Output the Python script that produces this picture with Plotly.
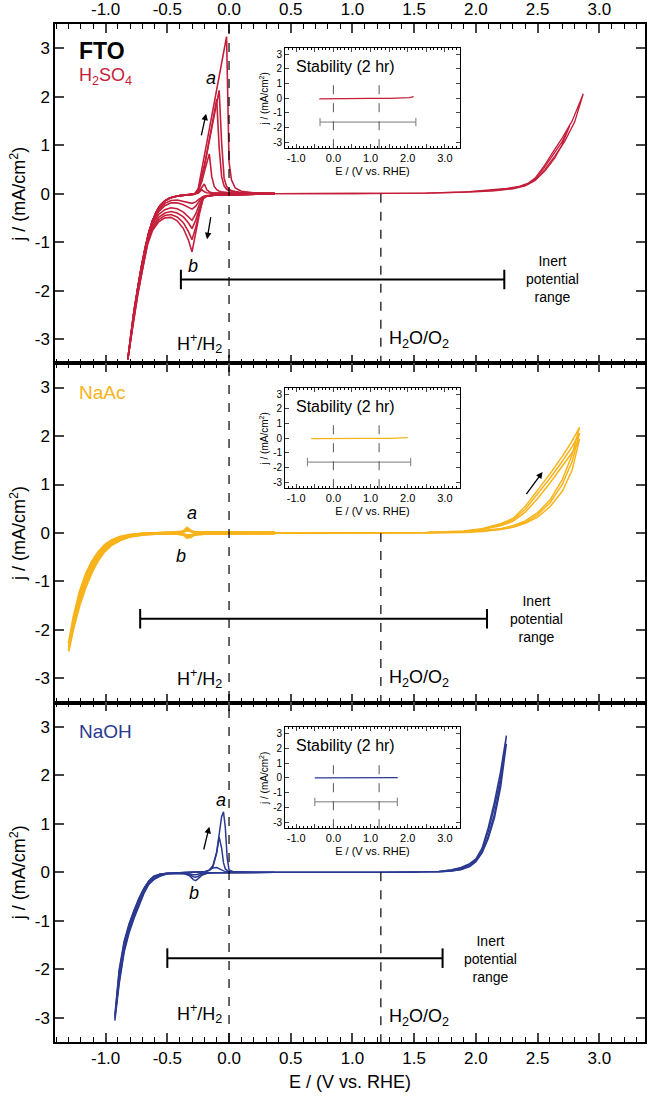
import plotly.graph_objects as go

FONT = "Liberation Sans, Arial, sans-serif"
RED = "#C41E3A"
ORANGE = "#F8B31A"
BLUE = "#2B3990"
GREY = "#7a7a7a"

# ---------------- H2SO4 (top panel) ----------------
h2so4_e_cath = [0.37, 0.20, 0.05, -0.05, -0.12, -0.18, -0.21, -0.24, -0.27, -0.30, -0.33,
                -0.37, -0.42, -0.47, -0.52, -0.57, -0.62, -0.66, -0.70, -0.74, -0.78, -0.82]
h2so4_j_cath_1 = [0.0, -0.01, -0.01, -0.02, -0.03, -0.04, -0.06, -0.11, -0.17, -0.20, -0.18,
                  -0.15, -0.13, -0.14, -0.20, -0.33, -0.55, -0.90, -1.40, -1.96, -2.62, -3.42]
h2so4_j_cath_2 = [0.0, -0.01, -0.01, -0.02, -0.03, -0.05, -0.07, -0.15, -0.26, -0.32, -0.28,
                  -0.23, -0.19, -0.19, -0.25, -0.37, -0.59, -0.93, -1.42, -1.98, -2.64, -3.42]
h2so4_j_cath_3 = [0.0, -0.01, -0.01, -0.02, -0.03, -0.05, -0.08, -0.22, -0.42, -0.55, -0.47,
                  -0.38, -0.31, -0.29, -0.33, -0.43, -0.63, -0.96, -1.45, -2.01, -2.67, -3.42]
h2so4_j_cath_4 = [0.0, -0.01, -0.01, -0.02, -0.03, -0.05, -0.09, -0.30, -0.55, -0.72, -0.60,
                  -0.48, -0.40, -0.37, -0.40, -0.49, -0.68, -0.99, -1.48, -2.04, -2.70, -3.42]
h2so4_j_cath_5 = [0.0, -0.01, -0.01, -0.02, -0.03, -0.05, -0.10, -0.36, -0.70, -0.95, -0.78,
                  -0.60, -0.48, -0.43, -0.45, -0.54, -0.72, -1.02, -1.51, -2.07, -2.72, -3.42]
h2so4_j_cath_6 = [0.0, -0.01, -0.01, -0.02, -0.03, -0.05, -0.10, -0.42, -0.85, -1.20, -0.95,
                  -0.72, -0.56, -0.49, -0.50, -0.58, -0.76, -1.05, -1.55, -2.10, -2.75, -3.42]

h2so4_e_steep = [-0.82, -0.80, -0.77, -0.74, -0.71, -0.68, -0.65, -0.62, -0.59, -0.56, -0.52,
                 -0.48, -0.44, -0.40, -0.36, -0.32, -0.28]
h2so4_j_steep = [-3.42, -3.00, -2.42, -1.95, -1.50, -1.12, -0.80, -0.56, -0.38, -0.25, -0.15,
                 -0.09, -0.06, -0.04, -0.03, -0.02, -0.01]

h2so4_e_peak = [-0.25, -0.22, -0.20, -0.18, -0.16, -0.14, -0.12, -0.10, -0.08, -0.06, -0.04,
                -0.02, 0.00, 0.02, 0.05, 0.10, 0.20, 0.37]
h2so4_j_peak_1 = [0.01, 0.08, 0.04, 0.02, 0.01, 0.01, 0.01, 0.01, 0.01, 0.01, 0.01,
                  0.01, 0.01, 0.0, 0.0, 0.0, 0.0, 0.0]
h2so4_j_peak_2 = [0.03, 0.12, 0.20, 0.08, 0.04, 0.02, 0.02, 0.01, 0.01, 0.01, 0.01,
                  0.01, 0.01, 0.01, 0.0, 0.0, 0.0, 0.0]
h2so4_j_peak_3 = [0.05, 0.25, 0.45, 0.65, 0.82, 0.35, 0.15, 0.08, 0.05, 0.04, 0.03,
                  0.02, 0.02, 0.01, 0.01, 0.0, 0.0, 0.0]
h2so4_j_peak_4 = [0.06, 0.33, 0.56, 0.83, 1.10, 1.37, 1.65, 1.95, 0.95, 0.35, 0.16,
                  0.09, 0.06, 0.05, 0.03, 0.02, 0.01, 0.0]
h2so4_j_peak_5 = [0.07, 0.35, 0.58, 0.83, 1.08, 1.33, 1.60, 1.87, 2.13, 1.05, 0.32,
                  0.15, 0.09, 0.06, 0.04, 0.02, 0.01, 0.0]
h2so4_j_peak_6 = [0.10, 0.50, 0.78, 1.05, 1.33, 1.60, 1.88, 2.15, 2.42, 2.70, 2.97,
                  3.24, 0.65, 0.28, 0.12, 0.05, 0.02, 0.01]

h2so4_e_oer_fwd_1 = [0.37, 0.8, 1.2, 1.6, 1.9, 2.1, 2.25, 2.35, 2.42, 2.48, 2.55, 2.62, 2.70, 2.78, 2.87]
h2so4_j_oer_fwd_1 = [0.0, 0.0, 0.0, 0.01, 0.03, 0.07, 0.11, 0.15, 0.21, 0.32, 0.56, 0.84, 1.15, 1.50, 2.06]
h2so4_e_oer_back_1 = [2.87, 2.80, 2.72, 2.64, 2.56, 2.48, 2.40, 2.30, 2.15, 1.95, 1.6, 1.0, 0.37]
h2so4_j_oer_back_1 = [2.06, 1.48, 1.08, 0.78, 0.50, 0.28, 0.17, 0.11, 0.07, 0.04, 0.01, 0.0, 0.0]
h2so4_e_oer_fwd_2 = [0.37, 0.8, 1.2, 1.6, 1.9, 2.1, 2.25, 2.35, 2.42, 2.48, 2.55, 2.62, 2.70, 2.76]
h2so4_j_oer_fwd_2 = [0.0, 0.0, 0.0, 0.01, 0.03, 0.06, 0.10, 0.14, 0.20, 0.30, 0.52, 0.78, 1.08, 1.40]
h2so4_e_oer_back_2 = [2.76, 2.70, 2.64, 2.56, 2.48, 2.40, 2.30, 2.15, 1.95, 1.6, 1.0, 0.37]
h2so4_j_oer_back_2 = [1.40, 1.02, 0.74, 0.47, 0.27, 0.16, 0.10, 0.06, 0.03, 0.01, 0.0, 0.0]

# ---------------- NaAc (middle panel) ----------------
naac_e_cath = [0.37, 0.20, 0.00, -0.20, -0.28, -0.31, -0.34, -0.37, -0.42, -0.50, -0.60,
               -0.70, -0.80, -0.88, -0.95, -1.01, -1.06, -1.11, -1.16, -1.21, -1.26, -1.30]
naac_j_cath_1 = [-0.01, -0.01, -0.01, -0.02, -0.04, -0.09, -0.10, -0.04, -0.02, -0.02, -0.02,
                 -0.04, -0.08, -0.15, -0.25, -0.39, -0.57, -0.81, -1.11, -1.49, -1.97, -2.44]
naac_j_cath_2 = [-0.01, -0.01, -0.01, -0.02, -0.03, -0.06, -0.07, -0.03, -0.02, -0.01, -0.02,
                 -0.03, -0.07, -0.13, -0.22, -0.35, -0.52, -0.75, -1.04, -1.41, -1.89, -2.36]
naac_j_cath_3 = [-0.01, -0.01, -0.01, -0.01, -0.02, -0.04, -0.04, -0.02, -0.01, -0.01, -0.01,
                 -0.03, -0.06, -0.11, -0.20, -0.32, -0.48, -0.70, -0.98, -1.34, -1.81, -2.28]
naac_e_anod = [-1.30, -1.26, -1.21, -1.16, -1.11, -1.06, -1.01, -0.95, -0.88, -0.80, -0.70,
               -0.60, -0.50, -0.42, -0.37, -0.34, -0.31, -0.28, -0.20, 0.00, 0.20, 0.37]
naac_j_anod_1 = [-2.44, -1.85, -1.30, -0.92, -0.64, -0.44, -0.29, -0.17, -0.09, -0.04, -0.01,
                 0.00, 0.01, 0.01, 0.04, 0.11, 0.05, 0.02, 0.02, 0.02, 0.02, 0.02]
naac_j_anod_2 = [-2.36, -1.78, -1.25, -0.88, -0.61, -0.41, -0.27, -0.16, -0.08, -0.04, -0.01,
                 0.00, 0.01, 0.01, 0.03, 0.08, 0.04, 0.02, 0.02, 0.02, 0.02, 0.02]
naac_j_anod_3 = [-2.28, -1.72, -1.20, -0.84, -0.58, -0.39, -0.25, -0.14, -0.07, -0.03, -0.01,
                 0.00, 0.00, 0.01, 0.02, 0.05, 0.03, 0.01, 0.01, 0.01, 0.01, 0.01]

naac_e_oer_fwd = [0.37, 0.8, 1.2, 1.6, 1.9, 2.05, 2.2, 2.3, 2.4, 2.5, 2.6, 2.7, 2.78, 2.84]
naac_j_oer_fwd_1 = [0.0, 0.0, 0.0, 0.01, 0.04, 0.09, 0.19, 0.30, 0.55, 0.88, 1.22, 1.58, 1.90, 2.18]
naac_j_oer_fwd_2 = [0.0, 0.0, 0.0, 0.01, 0.03, 0.08, 0.17, 0.27, 0.49, 0.80, 1.13, 1.48, 1.78, 2.06]
naac_j_oer_fwd_3 = [0.0, 0.0, 0.0, 0.01, 0.03, 0.07, 0.15, 0.24, 0.43, 0.71, 1.03, 1.37, 1.66, 1.94]
naac_e_oer_back = [2.84, 2.78, 2.7, 2.6, 2.5, 2.4, 2.3, 2.2, 2.05, 1.9, 1.6, 1.2, 0.8, 0.37]
naac_j_oer_back_1 = [2.18, 1.62, 1.10, 0.68, 0.42, 0.25, 0.15, 0.09, 0.05, 0.02, 0.01, 0.0, 0.0, 0.0]
naac_j_oer_back_2 = [2.06, 1.48, 1.00, 0.62, 0.38, 0.22, 0.13, 0.08, 0.04, 0.02, 0.01, 0.0, 0.0, 0.0]
naac_j_oer_back_3 = [1.94, 1.30, 0.86, 0.54, 0.33, 0.20, 0.12, 0.07, 0.03, 0.01, 0.0, 0.0, 0.0, 0.0]

# ---------------- NaOH (bottom panel) ----------------
naoh_e_cath = [0.37, 0.20, 0.02, -0.06, -0.12, -0.18, -0.22, -0.25, -0.27, -0.29, -0.32, -0.36,
               -0.42, -0.50, -0.56, -0.61, -0.65, -0.69, -0.73, -0.77, -0.81, -0.85, -0.89, -0.925]
naoh_j_cath_1 = [0.0, 0.0, 0.0, 0.0, -0.01, -0.02, -0.06, -0.13, -0.17, -0.15, -0.07, -0.03,
                 -0.02, -0.03, -0.08, -0.15, -0.25, -0.44, -0.68, -0.95, -1.25, -1.65, -2.30, -3.06]
naoh_j_cath_2 = [0.0, 0.0, 0.0, 0.0, -0.01, -0.02, -0.04, -0.08, -0.10, -0.09, -0.05, -0.02,
                 -0.02, -0.03, -0.07, -0.14, -0.23, -0.40, -0.63, -0.90, -1.20, -1.60, -2.25, -3.00]
naoh_j_cath_3 = [0.0, 0.0, 0.0, 0.0, -0.01, -0.01, -0.02, -0.04, -0.05, -0.05, -0.03, -0.02,
                 -0.02, -0.03, -0.06, -0.13, -0.21, -0.37, -0.60, -0.86, -1.16, -1.55, -2.20, -2.95]
naoh_e_anod = [-0.925, -0.89, -0.85, -0.81, -0.77, -0.73, -0.69, -0.65, -0.61, -0.56, -0.50,
               -0.40, -0.30, -0.20, -0.16, -0.13, -0.10, -0.08, -0.06, -0.045, -0.03, -0.015,
               0.00, 0.03, 0.10, 0.20, 0.37]
naoh_j_anod_1 = [-3.06, -2.10, -1.50, -1.12, -0.82, -0.56, -0.35, -0.19, -0.09, -0.04, -0.02,
                 -0.01, 0.0, 0.01, 0.05, 0.14, 0.42, 0.77, 1.15, 1.25, 0.92, 0.30,
                 0.05, 0.02, 0.01, 0.0, 0.0]
naoh_j_anod_2 = [-3.00, -2.05, -1.46, -1.09, -0.80, -0.55, -0.34, -0.18, -0.09, -0.04, -0.02,
                 -0.01, 0.0, 0.01, 0.04, 0.12, 0.40, 0.73, 0.50, 0.20, 0.07, 0.03,
                 0.01, 0.01, 0.0, 0.0, 0.0]
naoh_j_anod_3 = [-2.95, -2.00, -1.42, -1.06, -0.78, -0.53, -0.33, -0.18, -0.08, -0.04, -0.02,
                 -0.01, 0.0, 0.01, 0.04, 0.09, 0.10, 0.07, 0.04, 0.03, 0.02, 0.01,
                 0.01, 0.0, 0.0, 0.0, 0.0]

naoh_e_oer_fwd = [0.37, 0.8, 1.2, 1.5, 1.7, 1.8, 1.88, 1.95, 2.00, 2.05, 2.10, 2.15, 2.20, 2.247]
naoh_j_oer_fwd_1 = [0.0, 0.0, 0.0, 0.0, 0.02, 0.05, 0.10, 0.18, 0.28, 0.50, 0.92, 1.45, 2.08, 2.82]
naoh_j_oer_fwd_2 = [0.0, 0.0, 0.0, 0.0, 0.02, 0.05, 0.09, 0.16, 0.25, 0.45, 0.84, 1.35, 1.95, 2.65]
naoh_e_oer_back = [2.247, 2.20, 2.15, 2.10, 2.05, 2.00, 1.95, 1.88, 1.80, 1.70, 1.50, 1.20, 0.80, 0.37]
naoh_j_oer_back_1 = [2.82, 1.85, 1.20, 0.74, 0.42, 0.24, 0.13, 0.06, 0.03, 0.01, 0.0, 0.0, 0.0, 0.0]
naoh_j_oer_back_2 = [2.65, 1.75, 1.12, 0.70, 0.40, 0.22, 0.12, 0.06, 0.03, 0.01, 0.0, 0.0, 0.0, 0.0]

# ---------------- inert potential ranges ----------------
inert_h2so4_e = [-0.39, 2.23]
inert_naac_e = [-0.72, 2.09]
inert_naoh_e = [-0.50, 1.73]
inert_j = [-1.77, -1.77]

# ---------------- stability insets ----------------
stab_h2so4_e = [-0.38, 0.0, 0.5, 1.0, 1.5, 1.9, 2.05, 2.16]
stab_h2so4_j = [-0.04, -0.02, -0.01, 0.0, 0.0, 0.02, 0.05, 0.12]
stab_naac_e = [-0.60, 0.0, 0.5, 1.0, 1.5, 1.9, 2.0]
stab_naac_j = [-0.02, 0.0, 0.0, 0.0, 0.0, 0.02, 0.05]
stab_naoh_e = [-0.50, 0.0, 0.5, 1.0, 1.5, 1.73]
stab_naoh_j = [0.0, 0.0, 0.0, 0.0, 0.0, 0.01]
stab_range_h2so4_e = [-0.36, 2.22]
stab_range_naac_e = [-0.70, 2.08]
stab_range_naoh_e = [-0.50, 1.72]
stab_range_j = [-1.62, -1.62]

fig = go.Figure()


def loop(e1, j1, e2, j2, color, xa, ya, width=1.6):
    fig.add_trace(go.Scatter(x=e1 + e2, y=j1 + j2, mode="lines",
                             line=dict(color=color, width=width),
                             xaxis=xa, yaxis=ya, hoverinfo="skip"))


# top panel curves
for jc, jp in [(h2so4_j_cath_1, h2so4_j_peak_1), (h2so4_j_cath_2, h2so4_j_peak_2),
               (h2so4_j_cath_3, h2so4_j_peak_3), (h2so4_j_cath_4, h2so4_j_peak_4),
               (h2so4_j_cath_5, h2so4_j_peak_5), (h2so4_j_cath_6, h2so4_j_peak_6)]:
    loop(h2so4_e_cath, jc, h2so4_e_steep + h2so4_e_peak, h2so4_j_steep + jp, RED, "x", "y")
loop(h2so4_e_oer_fwd_1, h2so4_j_oer_fwd_1, h2so4_e_oer_back_1, h2so4_j_oer_back_1, RED, "x", "y", 1.3)
loop(h2so4_e_oer_fwd_2, h2so4_j_oer_fwd_2, h2so4_e_oer_back_2, h2so4_j_oer_back_2, RED, "x", "y", 1.3)

# middle panel curves
for jc, ja in [(naac_j_cath_1, naac_j_anod_1), (naac_j_cath_2, naac_j_anod_2),
               (naac_j_cath_3, naac_j_anod_3)]:
    loop(naac_e_cath, jc, naac_e_anod, ja, ORANGE, "x2", "y2", 2.0)
for jf, jb in [(naac_j_oer_fwd_1, naac_j_oer_back_1), (naac_j_oer_fwd_2, naac_j_oer_back_2),
               (naac_j_oer_fwd_3, naac_j_oer_back_3)]:
    loop(naac_e_oer_fwd, jf, naac_e_oer_back, jb, ORANGE, "x2", "y2", 1.5)

# bottom panel curves
for jc, ja in [(naoh_j_cath_1, naoh_j_anod_1), (naoh_j_cath_2, naoh_j_anod_2),
               (naoh_j_cath_3, naoh_j_anod_3)]:
    loop(naoh_e_cath, jc, naoh_e_anod, ja, BLUE, "x3", "y3", 1.5)
for jf, jb in [(naoh_j_oer_fwd_1, naoh_j_oer_back_1), (naoh_j_oer_fwd_2, naoh_j_oer_back_2)]:
    loop(naoh_e_oer_fwd, jf, naoh_e_oer_back, jb, BLUE, "x3", "y3", 1.5)

# inert potential range bars
for e, xa, ya in [(inert_h2so4_e, "x", "y"), (inert_naac_e, "x2", "y2"), (inert_naoh_e, "x3", "y3")]:
    fig.add_trace(go.Scatter(x=e, y=inert_j, mode="lines+markers", xaxis=xa, yaxis=ya,
                             line=dict(color="black", width=2),
                             marker=dict(symbol="line-ns-open", size=14,
                                         line=dict(color="black", width=2)),
                             hoverinfo="skip"))

# insets
for e, j, r, col, xa, ya in [(stab_h2so4_e, stab_h2so4_j, stab_range_h2so4_e, RED, "x4", "y4"),
                             (stab_naac_e, stab_naac_j, stab_range_naac_e, ORANGE, "x5", "y5"),
                             (stab_naoh_e, stab_naoh_j, stab_range_naoh_e, BLUE, "x6", "y6")]:
    fig.add_trace(go.Scatter(x=e, y=j, mode="lines", xaxis=xa, yaxis=ya,
                             line=dict(color=col, width=1.3), hoverinfo="skip"))
    fig.add_trace(go.Scatter(x=r, y=stab_range_j, mode="lines+markers", xaxis=xa, yaxis=ya,
                             line=dict(color=GREY, width=1),
                             marker=dict(symbol="line-ns-open", size=6,
                                         line=dict(color=GREY, width=1)),
                             hoverinfo="skip"))

# axes
x_ticks = [-1.0, -0.5, 0.0, 0.5, 1.0, 1.5, 2.0, 2.5, 3.0]
x_text = ["-1.0", "-0.5", "0.0", "0.5", "1.0", "1.5", "2.0", "2.5", "3.0"]
y_ticks = [-3, -2, -1, 0, 1, 2, 3]
y_text = ["-3", "-2", "-1", "0", "1", "2", "3"]

main_x = dict(range=[-1.41, 3.37], tickvals=x_ticks, ticktext=x_text, ticks="inside",
              ticklen=9, tickwidth=1.5, showline=True, linewidth=1.5, linecolor="black",
              mirror="ticks", showgrid=False, zeroline=False, automargin=False,
              minor=dict(tick0=0, dtick=0.1, ticks="inside", ticklen=5, tickwidth=1.2,
                         tickcolor="black", showgrid=False),
              tickfont=dict(size=17, color="black"))
main_y = dict(range=[-3.5, 3.5], tickvals=y_ticks, ticktext=y_text, ticks="inside",
              ticklen=9, tickwidth=1.5, showline=True, linewidth=1.5, linecolor="black",
              mirror="ticks", showgrid=False, zeroline=False, automargin=False,
              tickfont=dict(size=17, color="black"),
              title=dict(text="j / (mA/cm<sup>2</sup>)", font=dict(size=18, color="black"),
                         standoff=4))

ins_xticks = [-1.0, -0.5, 0.0, 0.5, 1.0, 1.5, 2.0, 2.5, 3.0]
ins_xtext = ["-1.0", "", "0.0", "", "1.0", "", "2.0", "", "3.0"]
ins_x = dict(range=[-1.3, 3.4], tickvals=ins_xticks, ticktext=ins_xtext, ticks="inside",
             ticklen=4, tickwidth=1, showline=True, linewidth=1, linecolor="black",
             mirror="ticks", showgrid=False, zeroline=False, automargin=False,
             minor=dict(tick0=0, dtick=0.1, ticks="inside", ticklen=2, tickwidth=0.8,
                        tickcolor="black", showgrid=False),
             tickfont=dict(size=11, color="black"),
             title=dict(text="E / (V vs. RHE)", font=dict(size=11, color="black"), standoff=3))
ins_y = dict(range=[-3.4, 3.4], tickvals=y_ticks, ticktext=y_text, ticks="inside",
             ticklen=4, tickwidth=1, showline=True, linewidth=1, linecolor="black",
             mirror="ticks", showgrid=False, zeroline=False, automargin=False,
             tickfont=dict(size=10, color="black"),
             title=dict(text="j / (mA/cm<sup>2</sup>)", font=dict(size=10, color="black"),
                        standoff=2))

d_top, d_mid, d_bot = [0.6667, 1.0], [0.3333, 0.6667], [0.0, 0.3333]
ins_dom = [0.39, 0.686]

fig.update_layout(
    width=655, height=1098,
    margin=dict(l=55, r=10, t=24, b=56),
    paper_bgcolor="white", plot_bgcolor="white",
    showlegend=False,
    font=dict(family=FONT, color="black"),
    xaxis=dict(main_x, anchor="y", side="top", domain=[0, 1]),
    xaxis2=dict(main_x, anchor="y2", showticklabels=False, matches="x", domain=[0, 1]),
    xaxis3=dict(main_x, anchor="y3", matches="x", domain=[0, 1],
                title=dict(text="E / (V vs. RHE)", font=dict(size=18, color="black"), standoff=8)),
    yaxis=dict(main_y, anchor="x", domain=d_top),
    yaxis2=dict(main_y, anchor="x2", domain=d_mid),
    yaxis3=dict(main_y, anchor="x3", domain=d_bot),
    xaxis4=dict(ins_x, anchor="y4", domain=ins_dom),
    yaxis4=dict(ins_y, anchor="x4", domain=[0.878, 0.976]),
    xaxis5=dict(ins_x, anchor="y5", domain=ins_dom),
    yaxis5=dict(ins_y, anchor="x5", domain=[0.544, 0.642]),
    xaxis6=dict(ins_x, anchor="y6", domain=ins_dom),
    yaxis6=dict(ins_y, anchor="x6", domain=[0.210, 0.309]),
)

# reference potential lines
dash = dict(color="black", width=1.2, dash="dash")
fig.add_shape(type="line", xref="x", yref="paper", x0=0, x1=0, y0=0, y1=1, line=dash)
for ya in ["y", "y2", "y3"]:
    fig.add_shape(type="line", xref="x", yref=ya, x0=1.23, x1=1.23, y0=0, y1=-3.5, line=dash)
for xa, ya in [("x4", "y4"), ("x5", "y5"), ("x6", "y6")]:
    for e0 in [0.0, 1.23]:
        fig.add_shape(type="line", xref=xa, yref=ya, x0=e0, x1=e0, y0=-3.4, y1=1.1,
                      line=dict(color="#555555", width=1, dash="dash"))

ann = []


def text(x, y, s, xa, ya, size=18, color="black", xanchor="center", **kw):
    ann.append(dict(x=x, y=y, xref=xa, yref=ya, text=s, showarrow=False, xanchor=xanchor,
                    yanchor="middle", font=dict(size=size, color=color, family=FONT), **kw))


def arrow(x0, y0, x1, y1, xa, ya):
    ann.append(dict(x=x1, y=y1, ax=x0, ay=y0, xref=xa, yref=ya, axref=xa, ayref=ya, text="",
                    showarrow=True, arrowhead=2, arrowsize=1, arrowwidth=1.3, arrowcolor="black"))


# top panel labels
text(-1.23, 2.94, "<b>FTO</b>", "x", "y", size=23, xanchor="left")
text(-1.23, 2.42, "H<sub>2</sub>SO<sub>4</sub>", "x", "y", size=18, color=RED, xanchor="left")
text(-0.146, 2.38, "<i>a</i>", "x", "y")
text(-0.294, -1.49, "<i>b</i>", "x", "y")
text(-0.24, -3.1, "H<sup>+</sup>/H<sub>2</sub>", "x", "y")
text(1.54, -3.0, "H<sub>2</sub>O/O<sub>2</sub>", "x", "y")
text(2.62, -1.76, "Inert<br>potential<br>range", "x", "y", size=14)
arrow(-0.227, 1.17, -0.186, 1.65, "x", "y")
arrow(-0.146, -0.455, -0.178, -0.94, "x", "y")

# middle panel labels
text(-1.23, 2.9, "NaAc", "x2", "y2", size=19, color=ORANGE, xanchor="left")
text(-0.30, 0.42, "<i>a</i>", "x2", "y2")
text(-0.39, -0.48, "<i>b</i>", "x2", "y2")
text(-0.24, -3.0, "H<sup>+</sup>/H<sub>2</sub>", "x2", "y2")
text(1.54, -3.0, "H<sub>2</sub>O/O<sub>2</sub>", "x2", "y2")
text(2.49, -1.78, "Inert<br>potential<br>range", "x2", "y2", size=14)
arrow(2.40, 0.77, 2.54, 1.26, "x2", "y2")

# bottom panel labels
text(-1.23, 2.9, "NaOH", "x3", "y3", size=19, color=BLUE, xanchor="left")
text(-0.065, 1.49, "<i>a</i>", "x3", "y3")
text(-0.286, -0.43, "<i>b</i>", "x3", "y3")
text(-0.24, -2.92, "H<sup>+</sup>/H<sub>2</sub>", "x3", "y3")
text(1.54, -3.0, "H<sub>2</sub>O/O<sub>2</sub>", "x3", "y3")
text(2.12, -1.78, "Inert<br>potential<br>range", "x3", "y3", size=14)
arrow(-0.208, 0.44, -0.16, 0.94, "x3", "y3")

# inset titles
for xa, ya in [("x4", "y4"), ("x5", "y5"), ("x6", "y6")]:
    text(-1.05, 2.15, "Stability (2 hr)", xa, ya, size=16, xanchor="left")

fig.update_layout(annotations=ann)

# drop the default 8 px page margin so the figure sits at the window origin
fig.write_html("out.html", config={"displayModeBar": False},
               post_script="document.body.style.margin='0px';")
